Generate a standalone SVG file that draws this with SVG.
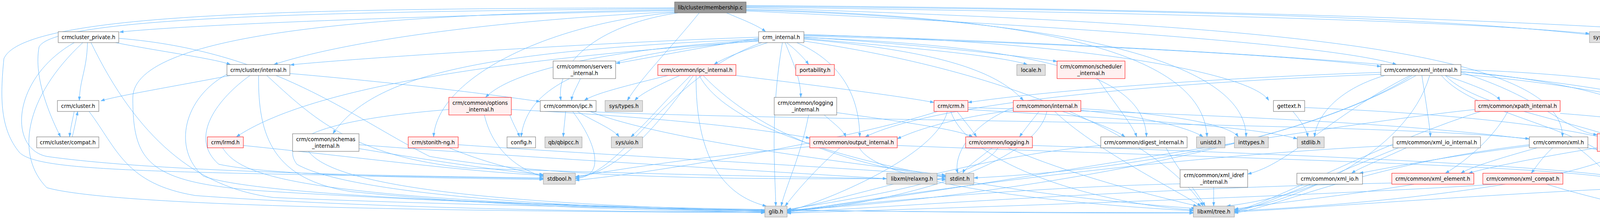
<svg xmlns="http://www.w3.org/2000/svg" width="4895" height="560" viewBox="0 0 4895 560">
<style>
.n rect{fill:#ffffff;stroke:#666666;stroke-width:1}
.g rect{fill:#e0e0e0;stroke:#999999;stroke-width:1}
.r rect{fill:#fff0f0;stroke:#ff0000;stroke-width:1}
.root rect{fill:#999999;stroke:#666666;stroke-width:1}
text{font-family:"DejaVu Sans","Liberation Sans",sans-serif;font-size:13.33px;text-anchor:middle;fill:#000000}
#edges path{fill:none;stroke:#63b8ff;stroke-width:1;marker-end:url(#ah)}
</style>
<defs>
<marker id="ah" markerWidth="10" markerHeight="7" refX="10" refY="3.5" orient="auto" markerUnits="userSpaceOnUse"><path d="M0,0 L10,3.5 L0,7 z" fill="#63b8ff" stroke="#63b8ff" stroke-width="0.5"/></marker>
</defs>
<rect x="0" y="0" width="4895" height="560" fill="#ffffff"/>
<g id="edges">
<path d="M1727,27 C1100,40 500,62 306,82"/>
<path d="M1727,22 C900,30 140,40 100,120 C85,200 130,300 155,350"/>
<path d="M1727,20 C800,22 60,30 10,150 C0,250 0,330 50,390 C100,440 400,440 1391,457"/>
<path d="M1727,30 C1300,50 900,100 701,165"/>
<path d="M1727,25 C1000,35 340,80 340,250 C340,420 380,470 700,490 C1200,520 1700,535 1958,540"/>
<path d="M1790,33 C1720,120 1640,200 1606,257"/>
<path d="M1735,33 C1550,60 1420,150 1436,257"/>
<path d="M1727,32 C1400,60 1120,200 1110,350"/>
<path d="M1860,33 C1900,50 1940,65 1960,81"/>
<path d="M1910,24 C2600,40 3080,120 3090,350"/>
<path d="M1910,26 C2700,45 3190,150 3190,350"/>
<path d="M1910,28 C2600,60 3400,110 3575,165"/>
<path d="M1910,20 C3200,60 4000,120 4000,350"/>
<path d="M1910,18 C2800,30 3700,50 4069,86"/>
<path d="M1910,16 C3500,30 4300,60 4550,200 C4750,320 4700,410 4194,450"/>
<path d="M1910,14 C3500,25 4700,80 4860,150 C4900,180 4895,320 4800,370 C4650,430 4450,445 4339,452"/>
<path d="M224,109 C222,180 205,200 203,257"/>
<path d="M296,109 C400,130 550,150 590,165"/>
<path d="M190,109 C30,200 20,380 120,400 C400,440 1000,450 1391,455"/>
<path d="M212,109 C60,250 40,400 120,480 C300,530 1200,540 1958,544"/>
<path d="M233,109 C350,350 500,480 700,505 C1500,540 2700,545 3055,543"/>
<path d="M304,98 C700,130 900,300 1100,400 C1500,470 2100,455 2421,457"/>
<path d="M590,193 C450,220 300,245 258,258"/>
<path d="M742,188 C1000,210 1250,240 1383,260"/>
<path d="M640,193 C560,250 480,350 560,420 C700,450 1100,455 1391,459"/>
<path d="M662,193 C660,350 700,460 900,490 C1300,530 1700,540 1958,542"/>
<path d="M683,193 C800,300 900,400 1200,430 C1800,450 2200,455 2421,460"/>
<path d="M581,190 C470,250 440,380 520,450 C700,520 2000,545 3055,545"/>
<path d="M1942,105 C1300,150 800,220 605,350"/>
<path d="M1942,95 C1500,110 900,150 743,166"/>
<path d="M1942,100 C1200,130 950,200 852,342"/>
<path d="M1942,98 C1800,120 1650,150 1577,162"/>
<path d="M1965,109 C1900,130 1850,150 1828,165"/>
<path d="M2014,109 C2040,130 2060,150 2070,165"/>
<path d="M2058,98 C2300,120 2550,140 2630,165"/>
<path d="M2058,95 C2300,110 2550,135 2706,157"/>
<path d="M2058,92 C2700,110 3300,140 3535,170"/>
<path d="M1942,102 C1500,130 1300,190 1243,249"/>
<path d="M1942,104 C1500,140 1350,220 1334,350"/>
<path d="M2010,109 C2030,160 2050,200 2050,249"/>
<path d="M2058,100 C2400,130 2550,180 2620,257"/>
<path d="M2058,90 C2700,100 3200,180 3248,257"/>
<path d="M2040,109 C2180,170 2200,280 2201,350"/>
<path d="M2003,109 C1970,300 1985,450 1986,527"/>
<path d="M2058,96 C2700,120 2930,200 2935,350"/>
<path d="M2058,88 C3000,120 4300,180 4480,342"/>
<path d="M1950,109 C1700,200 1600,440 1473,457"/>
<path d="M2058,105 C2700,200 3000,400 3080,527"/>
<path d="M1710,193 C1600,220 1520,240 1496,257"/>
<path d="M1740,193 C1680,220 1640,240 1625,257"/>
<path d="M1768,193 C1700,260 1650,320 1615,350"/>
<path d="M1775,193 C1700,300 1580,450 1473,452"/>
<path d="M1782,193 C1780,400 1850,500 1962,527"/>
<path d="M1790,193 C1900,400 2600,500 3060,533"/>
<path d="M1800,193 C1950,350 2200,430 2421,452"/>
<path d="M1884,193 C2100,220 2300,245 2391,262"/>
<path d="M1486,201 C1475,225 1465,240 1463,257"/>
<path d="M1305,294 C1315,320 1325,335 1330,350"/>
<path d="M1309,280 C1700,300 1950,330 2073,353"/>
<path d="M1240,294 C1260,380 1320,430 1391,452"/>
<path d="M1149,280 C900,300 700,340 760,420 C900,500 1500,535 1958,538"/>
<path d="M1448,285 C1446,310 1443,330 1442,350"/>
<path d="M1478,285 C1520,310 1570,330 1585,350"/>
<path d="M1466,285 C1530,370 1550,455 1473,455"/>
<path d="M1500,285 C2000,310 3500,310 3915,355"/>
<path d="M1510,285 C1700,360 2200,420 2421,448"/>
<path d="M2070,294 C2050,400 2010,480 2000,527"/>
<path d="M2110,294 C2140,320 2160,335 2165,350"/>
<path d="M2142,288 C2300,310 2450,330 2490,350"/>
<path d="M2450,285 C2470,310 2490,335 2500,350"/>
<path d="M2400,285 C2200,350 1700,440 1473,461"/>
<path d="M2425,285 C2400,400 2100,520 2015,540"/>
<path d="M2434,285 C2480,420 2800,520 3055,537"/>
<path d="M2478,280 C2800,300 3200,320 3321,355"/>
<path d="M2478,275 C3000,290 4100,320 4280,443"/>
<path d="M2594,275 C2480,320 2440,400 2452,443"/>
<path d="M2660,285 C2640,310 2620,335 2610,350"/>
<path d="M2680,285 C2650,420 2300,520 2015,541"/>
<path d="M2700,285 C2800,380 3000,480 3075,527"/>
<path d="M2720,285 C2800,310 2860,335 2880,350"/>
<path d="M2767,282 C2950,300 3050,330 3080,350"/>
<path d="M2767,278 C3000,290 3150,320 3170,350"/>
<path d="M2594,282 C2450,300 2350,330 2297,355"/>
<path d="M2810,201 C2850,260 2900,320 2910,350"/>
<path d="M3310,285 C3330,310 3345,330 3348,350"/>
<path d="M3340,275 C3700,290 4250,330 4290,443"/>
<path d="M3535,185 C3100,200 2700,230 2478,262"/>
<path d="M3535,190 C3000,210 2400,260 2215,350"/>
<path d="M3545,193 C3420,230 3370,300 3365,350"/>
<path d="M3640,193 C3650,260 3660,320 3662,350"/>
<path d="M3700,193 C3780,220 3830,240 3840,257"/>
<path d="M3740,190 C4100,220 4450,300 4480,342"/>
<path d="M3740,185 C3950,250 4000,330 4089,345"/>
<path d="M3610,193 C3400,300 3300,420 3194,445"/>
<path d="M3740,178 C4400,200 4690,320 4671,434"/>
<path d="M3615,193 C3300,400 2400,520 2015,537"/>
<path d="M3660,193 C3600,400 3300,520 3160,537"/>
<path d="M3625,193 C3300,380 2800,440 2493,455"/>
<path d="M3700,193 C3800,300 4200,320 4300,443"/>
<path d="M3690,193 C3780,300 4100,330 4150,443"/>
<path d="M3740,183 C4300,230 4460,400 4320,527"/>
<path d="M3776,280 C3300,330 2400,500 2015,539"/>
<path d="M3790,285 C3500,380 3300,500 3160,541"/>
<path d="M3860,285 C3820,360 3740,420 3700,443"/>
<path d="M3994,290 C4400,320 4780,400 4750,470 C4720,520 4500,535 4330,540"/>
<path d="M2985,378 C3020,440 3070,500 3085,527"/>
<path d="M2818,372 C2500,400 2200,500 2015,538"/>
<path d="M3600,378 C3530,410 3480,430 3460,443"/>
<path d="M3566,372 C3000,400 2400,480 2015,543"/>
<path d="M3580,378 C3400,450 3250,520 3160,543"/>
<path d="M3915,373 C3700,400 3550,430 3480,443"/>
<path d="M3935,378 C3820,410 3760,430 3740,443"/>
<path d="M3975,378 C3950,400 3930,430 3920,443"/>
<path d="M4040,378 C4120,440 4165,500 4170,527"/>
<path d="M3915,370 C3500,420 3300,520 3160,545"/>
<path d="M4089,378 C3950,400 3800,430 3760,443"/>
<path d="M4180,387 C4175,410 4170,430 4168,443"/>
<path d="M4215,387 C4250,410 4275,430 4285,443"/>
<path d="M4195,387 C4210,450 4225,500 4228,527"/>
<path d="M4160,387 C4000,480 3400,530 3160,539"/>
<path d="M4530,468 C4000,480 3400,530 3160,542"/>
<path d="M3107,479 C3107,500 3107,515 3107,527"/>
<path d="M3021,470 C2600,480 2200,520 2015,540"/>
<path d="M3370,471 C3300,500 3200,520 3140,527"/>
<path d="M3620,471 C3450,500 3250,520 3160,535"/>
<path d="M3563,468 C3000,480 2400,520 2015,544"/>
<path d="M3830,471 C3400,500 2500,530 2015,545"/>
<path d="M3960,471 C4050,500 4130,515 4160,527"/>
<path d="M1150,378 C1250,420 1350,440 1391,450"/>
<path d="M1173,370 C1600,400 2200,430 2421,450"/>
<path d="M623,372 C900,400 1200,440 1391,448"/>
<path d="M570,378 C620,460 800,510 1958,543"/>
<path d="M790,387 C850,470 1200,520 1958,539"/>
<path d="M919,370 C1300,400 2000,440 2270,457"/>
<path d="M919,380 C1100,410 1300,440 1391,446"/>
<path d="M2073,375 C1800,400 1600,430 1473,452"/>
<path d="M2150,378 C2080,440 2030,500 2010,527"/>
<path d="M2200,378 C2250,470 2700,520 3055,539"/>
<path d="M2297,372 C3000,400 3900,420 4127,455"/>
<path d="M2540,378 C2500,410 2470,430 2465,443"/>
<path d="M2555,378 C2500,470 2100,520 2015,536"/>
<path d="M2580,378 C2750,450 2950,500 3065,527"/>
<path d="M2643,372 C3200,390 3900,420 4127,450"/>
<path d="M190,285 C185,310 180,330 178,350"/>
<path d="M228,285 C300,380 320,470 500,500 C900,530 1600,545 1958,541"/>
<path d="M185,350 C190,330 195,305 199,285"/>
</g>
<g id="membership" class="root"><rect x="1727" y="5" width="183" height="28"/><text x="1818.5" y="23.5">lib/cluster/membership.c</text></g>
<g id="crm_internal" class="n"><rect x="1942" y="81" width="116" height="28"/><text x="2000" y="99.5">crm_internal.h</text></g>
<g id="crmcluster_private" class="n"><rect x="149" y="81" width="155" height="28"/><text x="226.5" y="99.5">crmcluster_private.h</text></g>
<g id="sys_param" class="g"><rect x="4069" y="81" width="101" height="28"/><text x="4119.5" y="99.5">sys/param.h</text></g>
<g id="cluster_internal" class="n"><rect x="581" y="165" width="161" height="28"/><text x="661.5" y="183.5">crm/cluster/internal.h</text></g>
<g id="servers_internal" class="n"><rect x="1416" y="156" width="160" height="45"/><text x="1496" y="174.5">crm/common/servers</text><text x="1496" y="191.5">_internal.h</text></g>
<g id="ipc_internal" class="r"><rect x="1684" y="165" width="200" height="28"/><text x="1784" y="183.5">crm/common/ipc_internal.h</text></g>
<g id="portability" class="r"><rect x="2037" y="165" width="99" height="28"/><text x="2086.5" y="183.5">portability.h</text></g>
<g id="locale" class="g"><rect x="2603" y="165" width="73" height="28"/><text x="2639.5" y="183.5">locale.h</text></g>
<g id="scheduler_internal" class="r"><rect x="2706" y="156" width="174" height="45"/><text x="2793" y="174.5">crm/common/scheduler</text><text x="2793" y="191.5">_internal.h</text></g>
<g id="xml_internal" class="n"><rect x="3535" y="165" width="205" height="28"/><text x="3637.5" y="183.5">crm/common/xml_internal.h</text></g>
<g id="cluster_h" class="n"><rect x="147" y="257" width="106" height="28"/><text x="200" y="275.5">crm/cluster.h</text></g>
<g id="options_internal" class="r"><rect x="1149" y="249" width="160" height="45"/><text x="1229" y="267.5">crm/common/options</text><text x="1229" y="284.5">_internal.h</text></g>
<g id="ipc_h" class="n"><rect x="1383" y="257" width="143" height="28"/><text x="1454.5" y="275.5">crm/common/ipc.h</text></g>
<g id="sys_types" class="g"><rect x="1549" y="257" width="96" height="28"/><text x="1597" y="275.5">sys/types.h</text></g>
<g id="logging_internal" class="n"><rect x="1982" y="249" width="160" height="45"/><text x="2062" y="267.5">crm/common/logging</text><text x="2062" y="284.5">_internal.h</text></g>
<g id="crm_h" class="r"><rect x="2391" y="257" width="87" height="28"/><text x="2434.5" y="275.5">crm/crm.h</text></g>
<g id="common_internal" class="r"><rect x="2594" y="257" width="173" height="28"/><text x="2680.5" y="275.5">crm/common/internal.h</text></g>
<g id="gettext" class="n"><rect x="3260" y="257" width="80" height="28"/><text x="3300" y="275.5">gettext.h</text></g>
<g id="xpath_internal" class="r"><rect x="3776" y="257" width="218" height="28"/><text x="3885" y="275.5">crm/common/xpath_internal.h</text></g>
<g id="compat" class="n"><rect x="94" y="350" width="159" height="28"/><text x="173.5" y="368.5">crm/cluster/compat.h</text></g>
<g id="lrmd" class="r"><rect x="531" y="350" width="92" height="28"/><text x="577" y="368.5">crm/lrmd.h</text></g>
<g id="schemas_internal" class="n"><rect x="749" y="342" width="170" height="45"/><text x="834" y="360.5">crm/common/schemas</text><text x="834" y="377.5">_internal.h</text></g>
<g id="stonith" class="r"><rect x="1045" y="350" width="128" height="28"/><text x="1109" y="368.5">crm/stonith-ng.h</text></g>
<g id="config" class="n"><rect x="1298" y="350" width="73" height="28"/><text x="1334.5" y="368.5">config.h</text></g>
<g id="qbipcc" class="g"><rect x="1395" y="350" width="95" height="28"/><text x="1442.5" y="368.5">qb/qbipcc.h</text></g>
<g id="sys_uio" class="g"><rect x="1565" y="350" width="80" height="28"/><text x="1605" y="368.5">sys/uio.h</text></g>
<g id="output_internal" class="r"><rect x="2073" y="350" width="224" height="28"/><text x="2185" y="368.5">crm/common/output_internal.h</text></g>
<g id="logging_h" class="r"><rect x="2472" y="350" width="171" height="28"/><text x="2557.5" y="368.5">crm/common/logging.h</text></g>
<g id="digest_internal" class="n"><rect x="2818" y="350" width="221" height="28"/><text x="2928.5" y="368.5">crm/common/digest_internal.h</text></g>
<g id="unistd" class="g"><rect x="3063" y="350" width="73" height="28"/><text x="3099.5" y="368.5">unistd.h</text></g>
<g id="inttypes" class="g"><rect x="3160" y="350" width="87" height="28"/><text x="3203.5" y="368.5">inttypes.h</text></g>
<g id="stdlib" class="g"><rect x="3321" y="350" width="69" height="28"/><text x="3355.5" y="368.5">stdlib.h</text></g>
<g id="xml_io_internal" class="n"><rect x="3566" y="350" width="224" height="28"/><text x="3678" y="368.5">crm/common/xml_io_internal.h</text></g>
<g id="xml_h" class="n"><rect x="3915" y="350" width="150" height="28"/><text x="3990" y="368.5">crm/common/xml.h</text></g>
<g id="xml_element_internal" class="r"><rect x="4089" y="342" width="198" height="45"/><text x="4188" y="360.5">crm/common/xml_element</text><text x="4188" y="377.5">_internal.h</text></g>
<g id="xml_names_internal" class="n"><rect x="4462" y="342" width="188" height="45"/><text x="4556" y="360.5">crm/common/xml_names</text><text x="4556" y="377.5">_internal.h</text></g>
<g id="stdbool" class="g"><rect x="1391" y="443" width="82" height="28"/><text x="1432" y="461.5">stdbool.h</text></g>
<g id="relaxng" class="g"><rect x="2270" y="443" width="129" height="28"/><text x="2334.5" y="461.5">libxml/relaxng.h</text></g>
<g id="stdint" class="g"><rect x="2421" y="443" width="72" height="28"/><text x="2457" y="461.5">stdint.h</text></g>
<g id="xml_idref_internal" class="n"><rect x="3021" y="434" width="173" height="45"/><text x="3107.5" y="452.5">crm/common/xml_idref</text><text x="3107.5" y="469.5">_internal.h</text></g>
<g id="xml_io" class="n"><rect x="3320" y="443" width="168" height="28"/><text x="3404" y="461.5">crm/common/xml_io.h</text></g>
<g id="xml_element" class="r"><rect x="3563" y="443" width="210" height="28"/><text x="3668" y="461.5">crm/common/xml_element.h</text></g>
<g id="xml_compat" class="r"><rect x="3796" y="443" width="205" height="28"/><text x="3898.5" y="461.5">crm/common/xml_compat.h</text></g>
<g id="stdio" class="g"><rect x="4127" y="443" width="66" height="28"/><text x="4160" y="461.5">stdio.h</text></g>
<g id="string" class="g"><rect x="4267" y="443" width="71" height="28"/><text x="4302.5" y="461.5">string.h</text></g>
<g id="xml_comment_internal" class="n"><rect x="4530" y="434" width="205" height="45"/><text x="4632.5" y="452.5">crm/common/xml_comment</text><text x="4632.5" y="469.5">_internal.h</text></g>
<g id="glib" class="g"><rect x="1958" y="527" width="57" height="28"/><text x="1986.5" y="545.5">glib.h</text></g>
<g id="tree" class="g"><rect x="3055" y="527" width="105" height="28"/><text x="3107.5" y="545.5">libxml/tree.h</text></g>
<g id="xml_names" class="n"><rect x="4131" y="527" width="199" height="28"/><text x="4230.5" y="545.5">crm/common/xml_names.h</text></g>
</svg>
